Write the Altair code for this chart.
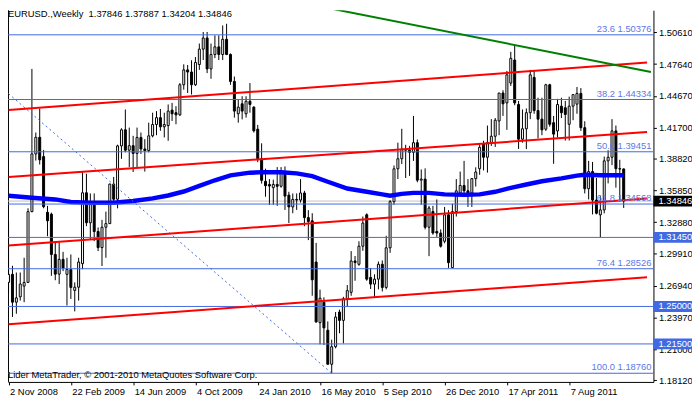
import altair as alt
import pandas as pd

FONT = "Liberation Sans"
FS = 9.5

# ---------------- data ----------------
weeks = list(range(159))  # week 0 = 2 Nov 2008
opens = [1.2725, 1.2800, 1.2540, 1.2590, 1.2690, 1.2725, 1.3386, 1.3925, 1.4080, 1.3900,
         1.3380, 1.3362, 1.2986, 1.2802, 1.2940, 1.2800, 1.2845, 1.2650, 1.2680, 1.2900,
         1.3562, 1.3282, 1.3470, 1.3200, 1.3050, 1.3240, 1.3274, 1.3643, 1.3502, 1.4000,
         1.4150, 1.3960, 1.4002, 1.3930, 1.4079, 1.3971, 1.3956, 1.4094, 1.4200, 1.4264,
         1.4178, 1.4190, 1.4334, 1.4310, 1.4290, 1.4571, 1.4710, 1.4690, 1.4571, 1.4760,
         1.4904, 1.5008, 1.4719, 1.4854, 1.4925, 1.4854, 1.4996, 1.4854, 1.4602, 1.4300,
         1.4393, 1.4300, 1.4417, 1.4362, 1.4156, 1.3879, 1.3669, 1.3640, 1.3610, 1.3640,
         1.3623, 1.3756, 1.3540, 1.3430, 1.3500, 1.3494, 1.3560, 1.3330, 1.3300, 1.2915,
         1.2349, 1.2540, 1.2278, 1.1960, 1.2124, 1.2448, 1.2370, 1.2571, 1.2632, 1.2925,
         1.2894, 1.3063, 1.3356, 1.2771, 1.2709, 1.2755, 1.2894, 1.2678, 1.3048, 1.3479,
         1.3786, 1.3880, 1.3970, 1.3960, 1.3940, 1.4030, 1.3680, 1.3690, 1.3240, 1.3386,
         1.3201, 1.3186, 1.3109, 1.3356, 1.2863, 1.3386, 1.3560, 1.3630, 1.3580, 1.3560,
         1.3694, 1.3787, 1.4017, 1.3894, 1.4030, 1.4090, 1.4233, 1.4494, 1.4402, 1.4587,
         1.4802, 1.4387, 1.4063, 1.4160, 1.4310, 1.4640, 1.4330, 1.4250, 1.4156, 1.4571,
         1.4217, 1.4140, 1.4371, 1.4356, 1.4202, 1.4371, 1.4390, 1.4490, 1.4170, 1.3600,
         1.3760, 1.3494, 1.3356, 1.3402, 1.3860, 1.3894, 1.4140, 1.3787, 1.37846]
highs = [1.3296, 1.2880, 1.2817, 1.2817, 1.2955, 1.3417, 1.4719, 1.4125, 1.4350, 1.3962,
         1.3440, 1.3377, 1.3100, 1.3099, 1.3010, 1.2955, 1.2986, 1.2725, 1.2955, 1.3756,
         1.3740, 1.3556, 1.3556, 1.3238, 1.3309, 1.3386, 1.3648, 1.3710, 1.4011, 1.4165,
         1.4340, 1.4171, 1.4094, 1.4171, 1.4125, 1.4063, 1.4217, 1.4310, 1.4325, 1.4345,
         1.4310, 1.4387, 1.4402, 1.4371, 1.4587, 1.4762, 1.4756, 1.4800, 1.4830, 1.4956,
         1.5064, 1.5064, 1.4956, 1.5033, 1.5033, 1.5125, 1.5141, 1.4864, 1.4648, 1.4433,
         1.4464, 1.4464, 1.4587, 1.4371, 1.4196, 1.4024, 1.3787, 1.3690, 1.3685, 1.3802,
         1.3802, 1.3808, 1.3571, 1.3556, 1.3556, 1.3690, 1.3580, 1.3400, 1.3371, 1.3094,
         1.2657, 1.2585, 1.2360, 1.2190, 1.2448, 1.2470, 1.2590, 1.2700, 1.3017, 1.2971,
         1.3109, 1.3340, 1.3370, 1.2860, 1.2800, 1.2920, 1.2930, 1.3160, 1.3494, 1.3817,
         1.4030, 1.4160, 1.4010, 1.4000, 1.4280, 1.4060, 1.3780, 1.3790, 1.3440, 1.3440,
         1.3500, 1.3220, 1.3430, 1.3400, 1.3460, 1.3690, 1.3760, 1.3860, 1.3690, 1.3700,
         1.3800, 1.4017, 1.4048, 1.4190, 1.4250, 1.4260, 1.4494, 1.4520, 1.4700, 1.4879,
         1.4941, 1.4420, 1.4340, 1.4350, 1.4710, 1.4700, 1.4450, 1.4450, 1.4580, 1.4580,
         1.4280, 1.4440, 1.4450, 1.4420, 1.4460, 1.4480, 1.4550, 1.4540, 1.4230, 1.3860,
         1.3850, 1.3700, 1.3530, 1.3900, 1.3960, 1.4250, 1.4190, 1.3870, 1.37887]
lows = [1.2630, 1.2402, 1.2432, 1.2555, 1.2540, 1.2720, 1.3380, 1.3863, 1.3826, 1.3417,
        1.3156, 1.2786, 1.2745, 1.2709, 1.2830, 1.2509, 1.2570, 1.2454, 1.2555, 1.2848,
        1.3250, 1.3125, 1.3110, 1.3017, 1.2878, 1.2955, 1.3270, 1.3479, 1.3417, 1.3879,
        1.3940, 1.3802, 1.3756, 1.3802, 1.3925, 1.3760, 1.3940, 1.4080, 1.4100, 1.4141,
        1.4079, 1.4048, 1.4233, 1.4202, 1.4280, 1.4525, 1.4494, 1.4480, 1.4560, 1.4710,
        1.4802, 1.4680, 1.4627, 1.4820, 1.4802, 1.4802, 1.4848, 1.4571, 1.4264, 1.4217,
        1.4248, 1.4264, 1.4310, 1.4125, 1.3848, 1.3648, 1.3525, 1.3448, 1.3450, 1.3440,
        1.3610, 1.3402, 1.3279, 1.3371, 1.3402, 1.3470, 1.3250, 1.3120, 1.2600, 1.2350,
        1.2146, 1.2140, 1.1960, 1.1876, 1.2109, 1.2250, 1.2155, 1.2500, 1.2600, 1.2740,
        1.2880, 1.3020, 1.2740, 1.2663, 1.2586, 1.2660, 1.2640, 1.2660, 1.3001, 1.3450,
        1.3690, 1.3830, 1.3700, 1.3720, 1.3860, 1.3660, 1.3450, 1.3220, 1.2970, 1.3170,
        1.3150, 1.3050, 1.3090, 1.2860, 1.2860, 1.3340, 1.3540, 1.3560, 1.3430, 1.3430,
        1.3620, 1.3730, 1.3771, 1.3750, 1.4000, 1.3990, 1.4100, 1.4280, 1.4150, 1.4560,
        1.4380, 1.3971, 1.4030, 1.3970, 1.4250, 1.4300, 1.4070, 1.4100, 1.4140, 1.4180,
        1.3833, 1.4080, 1.4260, 1.4050, 1.4050, 1.4240, 1.4300, 1.4140, 1.3556, 1.3500,
        1.3360, 1.3360, 1.3145, 1.3370, 1.3650, 1.3820, 1.3610, 1.3480, 1.34204]
closes = [1.2800, 1.2540, 1.2580, 1.2709, 1.2725, 1.3386, 1.3925, 1.4080, 1.3870, 1.3432,
          1.3300, 1.2986, 1.2802, 1.2940, 1.2860, 1.2845, 1.2678, 1.2680, 1.2915, 1.3562,
          1.3282, 1.3470, 1.3200, 1.3050, 1.3240, 1.3274, 1.3643, 1.3502, 1.4000, 1.4150,
          1.3960, 1.4002, 1.3930, 1.4079, 1.3971, 1.3956, 1.4094, 1.4200, 1.4264, 1.4178,
          1.4200, 1.4325, 1.4300, 1.4290, 1.4571, 1.4710, 1.4690, 1.4571, 1.4780, 1.4904,
          1.5008, 1.4719, 1.4854, 1.4925, 1.4854, 1.4996, 1.4854, 1.4602, 1.4325, 1.4362,
          1.4325, 1.4417, 1.4387, 1.4141, 1.3879, 1.3678, 1.3628, 1.3625, 1.3640, 1.3623,
          1.3765, 1.3531, 1.3430, 1.3500, 1.3494, 1.3560, 1.3330, 1.3294, 1.2749, 1.2355,
          1.2577, 1.2300, 1.1960, 1.2124, 1.2401, 1.2370, 1.2571, 1.2648, 1.2925, 1.2910,
          1.3063, 1.3279, 1.2755, 1.2709, 1.2755, 1.2894, 1.2678, 1.3048, 1.3479, 1.3786,
          1.3880, 1.3970, 1.3960, 1.3940, 1.4030, 1.3680, 1.3690, 1.3240, 1.3420, 1.3186,
          1.3186, 1.3063, 1.3356, 1.2909, 1.3386, 1.3580, 1.3630, 1.3580, 1.3560, 1.3694,
          1.3756, 1.3987, 1.3894, 1.4030, 1.4090, 1.4240, 1.4494, 1.4393, 1.4664, 1.4818,
          1.4402, 1.4063, 1.4160, 1.4310, 1.4664, 1.4330, 1.4250, 1.4150, 1.4571, 1.4202,
          1.4110, 1.4387, 1.4310, 1.4294, 1.4371, 1.4479, 1.4490, 1.4170, 1.3600, 1.3760,
          1.3494, 1.3371, 1.3402, 1.3860, 1.3894, 1.4140, 1.3787, 1.3784, 1.34846]

# moving average (thick blue line)
ma_weeks = [0, 6, 12, 16, 21, 27, 32, 37, 41, 45, 49, 53, 57, 62, 66, 70, 74, 78, 82,
            87, 92, 96, 98, 101, 104, 108, 112, 117, 121, 125, 129, 133, 137, 142, 146,
            148, 152, 158]
ma_values = [1.3534, 1.3515, 1.3500, 1.3476, 1.3469, 1.3469, 1.3485, 1.3510, 1.3537,
             1.3574, 1.3626, 1.3679, 1.3725, 1.3750, 1.3755, 1.3753, 1.3743, 1.3718,
             1.3665, 1.3602, 1.3571, 1.3547, 1.3534, 1.3552, 1.3561, 1.3561, 1.3547,
             1.3543, 1.3547, 1.3571, 1.3608, 1.3639, 1.3670, 1.3697, 1.3722, 1.3731,
             1.3725, 1.3725]

# fibonacci levels
fib_pct = ["23.6", "38.2", "50.0", "61.8", "76.4", "100.0"]
fib_levels = [1.50376, 1.44334, 1.39451, 1.34568, 1.28526, 1.18760]
# extra horizontal lines
hline_levels = [1.31450, 1.25000, 1.21500]

# red channel lines (start week/price, end week/price)
chan_weeks = [0, 164]
chan_start = [1.43352, 1.37101, 1.30693, 1.23343]
chan_end = [1.47794, 1.41293, 1.35079, 1.27739]

# green trend line
green_weeks = [79, 165]
green_prices = [1.5310, 1.4690]

# dotted fib trend line
diag_weeks = [-1, 83]
diag_prices = [1.4519, 1.1876]

bid_price = 1.34846

# axes
y_ticks = [1.50610, 1.47640, 1.44670, 1.41700, 1.38820, 1.35850, 1.32880, 1.29910,
           1.26940, 1.23970, 1.21000, 1.18120]
x_tick_weeks = [0, 16, 32, 48, 64, 80, 96, 112, 128, 144]
x_tick_labels = ["2 Nov 2008", "22 Feb 2009", "14 Jun 2009", "4 Oct 2009", "24 Jan 2010",
                 "16 May 2010", "5 Sep 2010", "26 Dec 2010", "17 Apr 2011", "7 Aug 2011"]

mark_prices = [1.34846, 1.31450, 1.25000, 1.21500]
mark_colors = ["#000000", "#4169E1", "#4169E1", "#4169E1"]

title_text = "EURUSD.,Weekly\u00a0 {:.5f} {:.5f} {:.5f} {:.5f}".format(
    opens[-1], highs[-1], lows[-1], closes[-1])
footer_text = "Lider MetaTrader, \u00a9 2001-2010 MetaQuotes Software Corp."

# ---------------- chart ----------------
W, H = 653, 376
xs = alt.Scale(domain=[1.125, 164.375], nice=False, zero=False)
ys = alt.Scale(domain=[1.17950, 1.52669], nice=False, zero=False)

label_expr = "[" + ",".join("'%s'" % s for s in x_tick_labels) + "][round(datum.value/16)]"
xaxis = alt.Axis(values=x_tick_weeks, labelExpr=label_expr, title=None, grid=False,
                 orient="bottom", labelAlign="left", labelBaseline="top", labelPadding=2,
                 labelOffset=1, tickSize=3, labelFont=FONT, labelFontSize=FS,
                 labelColor="black", domainColor="black", tickColor="black",
                 labelOverlap=False, labelFlush=3, labelFlushOffset=-6, zindex=0)
yaxis = alt.Axis(values=y_ticks, format=".5f", title=None, grid=False, orient="right",
                 tickSize=3, labelPadding=2, labelFont=FONT, labelFontSize=FS,
                 labelColor="black", domainColor="black", tickColor="black",
                 labelOverlap=False, labelFlush=False, zindex=0)


def X(field="i"):
    return alt.X(f"{field}:Q", scale=xs, axis=xaxis)


def Y(field):
    return alt.Y(f"{field}:Q", scale=ys, axis=yaxis)


df = pd.DataFrame({"i": weeks, "o": opens, "h": highs, "l": lows, "c": closes})
df["fill"] = ["white" if c >= o else "black" for o, c in zip(opens, closes)]

frame = alt.Chart(pd.DataFrame({"a": [0]})).mark_rule(color="black", strokeWidth=1).encode(
    x=alt.value(0.5), y=alt.value(0), y2=alt.value(H))

bid = alt.Chart(pd.DataFrame({"p": [bid_price]})).mark_rule(
    color="#C0C0C0", strokeWidth=1).encode(y=Y("p"))

wicks = alt.Chart(df).mark_rule(color="black", strokeWidth=1, clip=True).encode(
    x=X(), y=Y("l"), y2="h:Q")
bodies = alt.Chart(df).mark_bar(size=2, stroke="black", strokeWidth=1, clip=True).encode(
    x=X(), y=Y("o"), y2="c:Q", fill=alt.Fill("fill:N", scale=None))

ma = alt.Chart(pd.DataFrame({"i": ma_weeks, "p": ma_values})).mark_line(
    color="#0000FF", strokeWidth=4.5, clip=True).encode(x=X(), y=Y("p"))

hl = alt.Chart(pd.DataFrame({"p": fib_levels + hline_levels})).mark_rule(
    color="#4169E1", strokeWidth=1).encode(y=Y("p"))

diag = alt.Chart(pd.DataFrame({"i": diag_weeks, "p": diag_prices})).mark_line(
    color="#4169E1", strokeWidth=1, strokeDash=[2, 3], clip=True).encode(x=X(), y=Y("p"))

chan_rows = []
for k, (s, e) in enumerate(zip(chan_start, chan_end)):
    chan_rows.append({"i": chan_weeks[0], "p": s, "line": k})
    chan_rows.append({"i": chan_weeks[1], "p": e, "line": k})
red = alt.Chart(pd.DataFrame(chan_rows)).mark_line(
    color="#FF0000", strokeWidth=2, clip=True).encode(x=X(), y=Y("p"), detail="line:N")

green = alt.Chart(pd.DataFrame({"i": green_weeks, "p": green_prices})).mark_line(
    color="#008000", strokeWidth=2, clip=True).encode(x=X(), y=Y("p"))

fib_df = pd.DataFrame({"p": fib_levels,
                       "t": [f"{a} {b:.5f}" for a, b in zip(fib_pct, fib_levels)]})
fib_txt = alt.Chart(fib_df).mark_text(
    align="right", baseline="bottom", dy=-1, font=FONT, fontSize=FS, color="#5B78E6").encode(
    x=alt.value(W - 2), y=Y("p"), text="t:N")

title = alt.Chart(pd.DataFrame({"t": [title_text]})).mark_text(
    align="left", baseline="alphabetic", font=FONT, fontSize=FS, color="black").encode(
    x=alt.value(0), y=alt.value(7), text="t:N")
footer = alt.Chart(pd.DataFrame({"t": [footer_text]})).mark_text(
    align="left", baseline="alphabetic", font=FONT, fontSize=FS, color="black").encode(
    x=alt.value(0), y=alt.value(372), text="t:N")

mk_df = pd.DataFrame({"p": mark_prices, "bg": mark_colors,
                      "t": [f"{v:.5f}" for v in mark_prices]})
mk_box = alt.Chart(mk_df).mark_tick(orient="horizontal", thickness=11, size=39,
                                     opacity=1, clip=False).encode(
    x=alt.value(W + 19.5), y=Y("p"), color=alt.Color("bg:N", scale=None))
mk_txt = alt.Chart(mk_df).mark_text(
    align="left", baseline="middle", font=FONT, fontSize=FS, color="white").encode(
    x=alt.value(W + 5), y=Y("p"), text="t:N")

chart = alt.layer(
    frame, bid, wicks, bodies, ma, hl, diag, red, green, fib_txt, title, footer,
    mk_box, mk_txt
).properties(
    width=W, height=H,
    padding={"left": 0, "top": 0, "right": 39, "bottom": 18},
    autosize=alt.AutoSizeParams(type="none"),
    background="white",
).configure_view(stroke=None)

chart.save("out.html", embed_options={"renderer": "svg", "actions": False})
